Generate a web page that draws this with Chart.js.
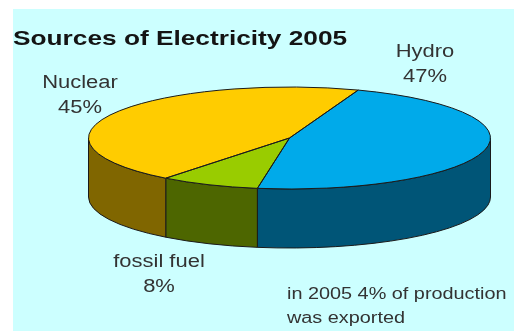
<!DOCTYPE html>
<html>
<head>
<meta charset="utf-8">
<title>Sources of Electricity 2005</title>
<script src="https://cdn.jsdelivr.net/npm/chart.js@4/dist/chart.umd.min.js"></script>
<style>
  html, body { margin: 0; padding: 0; background: #ffffff; }
  #wrap { position: absolute; left: 13px; top: 9px; width: 501px; height: 322px; background: #ccffff; }
</style>
</head>
<body>
<div id="wrap"><canvas id="chart" width="501" height="322"></canvas></div>
<script>
// Share of production by source
const sources = ["Hydro", "fossil fuel", "Nuclear"];
const shares = [47, 8, 45];
const titleText = "Sources of Electricity 2005";
const noteLines = ["in 2005 4% of production", "was exported"];

// Colours: top face and darker side wall per slice
const topColors = ["#00aaea", "#99cc00", "#ffcc00"];
const sideColors = ["#005577", "#4d6600", "#806600"];

// Ellipse look of the pie
const pieRadius = 201;   // horizontal radius
const pieTilt = 51;      // vertical radius of the top face
const pieDepth = 59;     // thickness of the side wall

// Where the slice labels sit (canvas px, centre of text / baselines)
const labelSpots = {
  "Hydro":       { x: 412, y: 48 },
  "fossil fuel": { x: 146, y: 258 },
  "Nuclear":     { x: 67,  y: 79 }
};

const FONT = '"Liberation Sans", Arial, sans-serif';

function stretchText(ctx, str, x, y, align, sx) {
  ctx.save();
  ctx.translate(x, y);
  ctx.scale(sx, 1);
  ctx.textAlign = align;
  ctx.fillText(str, 0, 0);
  ctx.restore();
}

// Pieces of [s, e] that face the viewer (angles 0..PI, y pointing down)
function frontPart(s, e) {
  const out = [];
  for (const off of [-2 * Math.PI, 0, 2 * Math.PI]) {
    const a = Math.max(s + off, 0);
    const b = Math.min(e + off, Math.PI);
    if (b > a) out.push([a, b]);
  }
  return out;
}

const pie3d = {
  id: "pie3d",
  beforeDatasetsDraw(chart) {
    const ctx = chart.ctx;
    const arcs = chart.getDatasetMeta(0).data;
    if (!arcs.length) return;
    const cx = arcs[0].x, cy = arcs[0].y, rx = arcs[0].outerRadius, ry = pieTilt;

    // side walls
    ctx.save();
    ctx.lineWidth = 1;
    ctx.strokeStyle = "#1a1a1a";
    arcs.forEach((arc, i) => {
      frontPart(arc.startAngle, arc.endAngle).forEach(([a, b]) => {
        ctx.beginPath();
        ctx.ellipse(cx, cy, rx, ry, 0, a, b);
        ctx.lineTo(cx + rx * Math.cos(b), cy + ry * Math.sin(b) + pieDepth);
        ctx.ellipse(cx, cy + pieDepth, rx, ry, 0, b, a, true);
        ctx.closePath();
        ctx.fillStyle = sideColors[i];
        ctx.fill();
        ctx.stroke();
      });
    });
    ctx.restore();

    // squash the top face into an ellipse
    ctx.save();
    ctx.translate(cx, cy);
    ctx.scale(1, ry / rx);
    ctx.translate(-cx, -cy);
  },
  afterDatasetsDraw(chart) {
    const ctx = chart.ctx;
    ctx.restore();
    const arcs = chart.getDatasetMeta(0).data;
    if (!arcs.length) return;
    const cx = arcs[0].x, cy = arcs[0].y, rx = arcs[0].outerRadius, ry = pieTilt;

    // outlines of the top face
    ctx.save();
    ctx.lineWidth = 1;
    ctx.strokeStyle = "#1a1a1a";
    arcs.forEach(arc => {
      ctx.beginPath();
      ctx.moveTo(cx, cy);
      ctx.lineTo(cx + rx * Math.cos(arc.startAngle), cy + ry * Math.sin(arc.startAngle));
      ctx.ellipse(cx, cy, rx, ry, 0, arc.startAngle, arc.endAngle);
      ctx.closePath();
      ctx.stroke();
    });
    ctx.restore();
  },
  afterDraw(chart) {
    const ctx = chart.ctx;
    ctx.save();
    ctx.textBaseline = "alphabetic";

    ctx.fillStyle = "#141414";
    ctx.font = "bold 21px " + FONT;
    stretchText(ctx, titleText, 0, 36, "left", 1.25);

    ctx.fillStyle = "#333333";
    ctx.font = "18px " + FONT;
    sources.forEach((name, i) => {
      const p = labelSpots[name];
      stretchText(ctx, name, p.x, p.y, "center", 1.22);
      stretchText(ctx, shares[i] + "%", p.x, p.y + 25, "center", 1.22);
    });

    ctx.font = "16px " + FONT;
    noteLines.forEach((line, i) => {
      stretchText(ctx, line, 274, 290 + i * 24, "left", 1.24);
    });
    ctx.restore();
  }
};

new Chart(document.getElementById("chart").getContext("2d"), {
  type: "pie",
  data: {
    labels: sources,
    datasets: [{
      data: shares,
      backgroundColor: topColors,
      borderWidth: 0,
      radius: pieRadius,
      clip: false
    }]
  },
  options: {
    responsive: false,
    animation: false,
    rotation: 20,
    layout: { padding: { left: 52, right: 0, top: 0, bottom: 64 } },
    plugins: {
      legend: { display: false },
      tooltip: { enabled: false },
      title: { display: false }
    }
  },
  plugins: [pie3d]
});
</script>
</body>
</html>
